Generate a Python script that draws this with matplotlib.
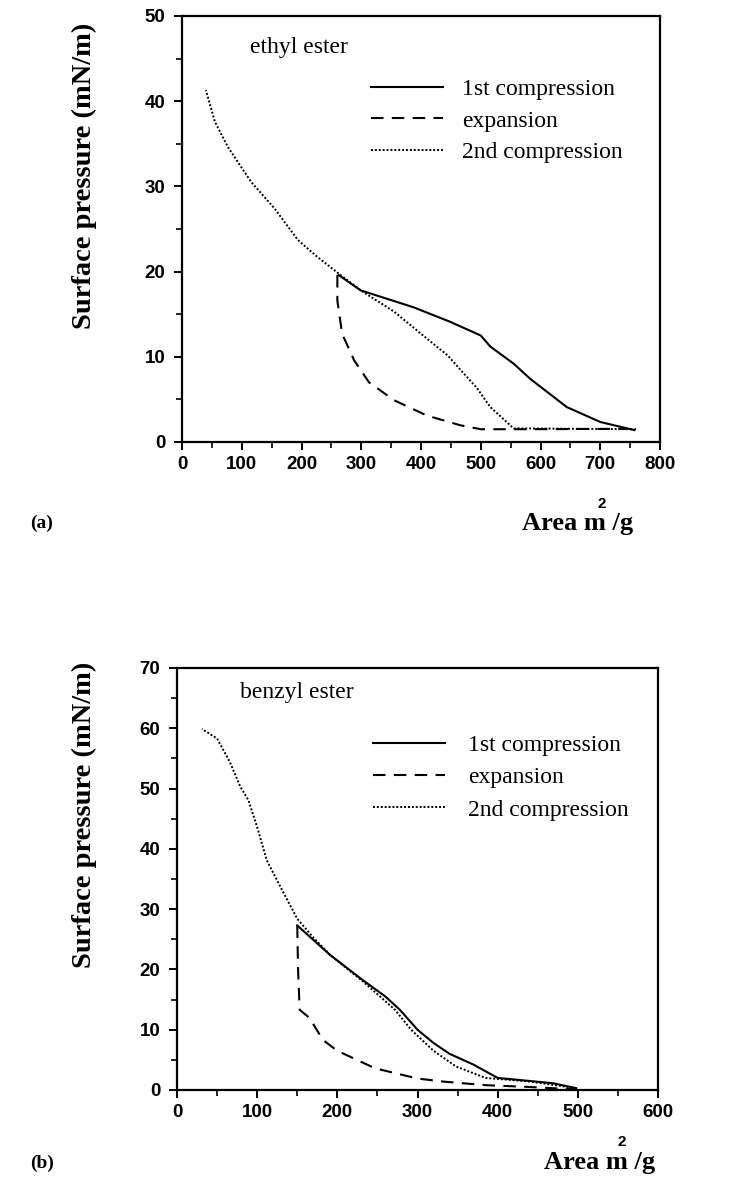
import matplotlib
matplotlib.use("Agg")
import matplotlib.pyplot as plt

# ---- data: (a) ethyl ester ----
eth_first_x = [757, 700, 644, 583, 555, 516, 500, 449, 388, 299, 262]
eth_first_y = [1.4, 2.35, 4.1, 7.4, 9.2, 11.2, 12.5, 14.1, 15.8, 17.8, 19.6]
eth_exp_x = [260, 260, 268, 288, 313, 355, 410, 466, 500, 577, 745]
eth_exp_y = [19.6, 16.6, 12.7, 9.6, 7.0, 4.9, 3.1, 1.96, 1.5, 1.5, 1.55]
eth_second_x = [760, 555, 516, 494, 444, 400, 355, 299, 258, 227, 194, 155, 116, 77, 55, 40]
eth_second_y = [1.5, 1.6, 4.1, 6.3, 10.2, 12.7, 15.3, 17.8, 20.0, 21.7, 23.7, 27.4, 30.5, 34.6, 37.6, 41.3]

# ---- data: (b) benzyl ester ----
benz_first_x = [498, 470, 440, 400, 370, 340, 320, 300, 278, 260, 232, 191, 170, 150]
benz_first_y = [0.3, 1.1, 1.5, 2.0, 4.2, 6.0, 7.8, 10.0, 13.3, 15.5, 18.2, 22.4, 24.9, 27.3]
benz_exp_x = [150, 151, 153, 165, 172, 182, 200, 247, 300, 332, 385, 440, 497]
benz_exp_y = [27.3, 20.0, 13.3, 12.0, 10.5, 8.3, 6.5, 3.6, 1.9, 1.4, 0.8, 0.5, 0.1]
benz_second_x = [498, 440, 385, 348, 320, 292, 272, 255, 232, 191, 170, 150, 129, 112, 100, 89, 79, 66, 50, 31]
benz_second_y = [0.3, 1.4, 2.0, 3.9, 6.5, 10.0, 13.3, 15.3, 18.0, 22.4, 25.3, 28.4, 33.7, 38.1, 43.6, 48.1, 50.3, 54.4, 58.3, 59.9]

labels = ["1st compression", "expansion", "2nd compression"]

serif = "Liberation Serif"
sans = "Liberation Sans"

fig = plt.figure(figsize=(7.56, 11.83), dpi=100)
ax1 = fig.add_axes([182 / 756, 1 - 442 / 1183, 478 / 756, 426 / 1183])
ax2 = fig.add_axes([177 / 756, 1 - 1090 / 1183, 481 / 756, 422 / 1183])


def style_axes(ax, xmax, ymax):
    ax.set_xlim(0, xmax)
    ax.set_ylim(0, ymax)
    ax.set_xticks(range(0, xmax + 1, 100))
    ax.set_xticks(range(50, xmax, 100), minor=True)
    ax.set_yticks(range(0, ymax + 1, 10))
    ax.set_yticks(range(5, ymax, 10), minor=True)
    for s in ax.spines.values():
        s.set_linewidth(1.6)
    ax.tick_params(which="major", direction="out", length=6, width=1.4)
    ax.tick_params(which="minor", direction="out", length=4, width=1.2)
    ax.tick_params(axis="x", pad=4)
    ax.tick_params(axis="y", pad=6)
    for t in ax.get_xticklabels() + ax.get_yticklabels():
        t.set_fontfamily(sans)
        t.set_fontweight("bold")
        t.set_fontsize(13.5)


def draw(ax, fx, fy, ex, ey, sx, sy):
    ax.plot(fx, fy, color="black", lw=1.5, label=labels[0])
    ax.plot(ex, ey, color="black", lw=1.5, dashes=(6, 4), label=labels[1])
    ax.plot(sx, sy, color="black", lw=1.4, dashes=(1, 1), label=labels[2])


draw(ax1, eth_first_x, eth_first_y, eth_exp_x, eth_exp_y, eth_second_x, eth_second_y)
draw(ax2, benz_first_x, benz_first_y, benz_exp_x, benz_exp_y, benz_second_x, benz_second_y)
style_axes(ax1, 800, 50)
style_axes(ax2, 600, 70)

leg_font = {"family": serif, "size": 17}
ax1.legend(loc="upper left", bbox_to_anchor=(0.395, 0.853), frameon=False,
           prop=leg_font, borderpad=0, borderaxespad=0, handlelength=3.05,
           handletextpad=0.8, labelspacing=0.42)
ax2.legend(loc="upper left", bbox_to_anchor=(0.407, 0.842), frameon=False,
           prop=leg_font, borderpad=0, borderaxespad=0, handlelength=3.05,
           handletextpad=1.0, labelspacing=0.45)

ax1.text(0.142, 0.927, "ethyl ester", transform=ax1.transAxes,
         family=serif, fontsize=17, va="center")
ax2.text(0.131, 0.941, "benzyl ester", transform=ax2.transAxes,
         family=serif, fontsize=17, va="center")

ax1.set_ylabel("Surface pressure (mN/m)", family=serif, fontweight="bold", fontsize=20.5)
ax1.yaxis.set_label_coords(-0.178, 0.624)
ax2.set_ylabel("Surface pressure (mN/m)", family=serif, fontweight="bold", fontsize=20.5)
ax2.yaxis.set_label_coords(-0.166, 0.652)

# x axis titles with raised "2"
fig.text(522 / 756, 1 - 523 / 1183, "Area m /g", family=serif, fontweight="bold",
         fontsize=19, va="center")
fig.text(597 / 756, 1 - 504 / 1183, "2", family=sans, fontweight="bold", fontsize=11, va="center")
fig.text(544 / 756, 1 - 1162 / 1183, "Area m /g", family=serif, fontweight="bold",
         fontsize=19, va="center")
fig.text(618 / 756, 1 - 1142 / 1183, "2", family=sans, fontweight="bold", fontsize=11, va="center")

fig.text(30 / 756, 1 - 523 / 1183, "(a)", family=serif, fontweight="bold", fontsize=14, va="center")
fig.text(30 / 756, 1 - 1163 / 1183, "(b)", family=serif, fontweight="bold", fontsize=14, va="center")

fig.savefig("out.png", dpi=100)
